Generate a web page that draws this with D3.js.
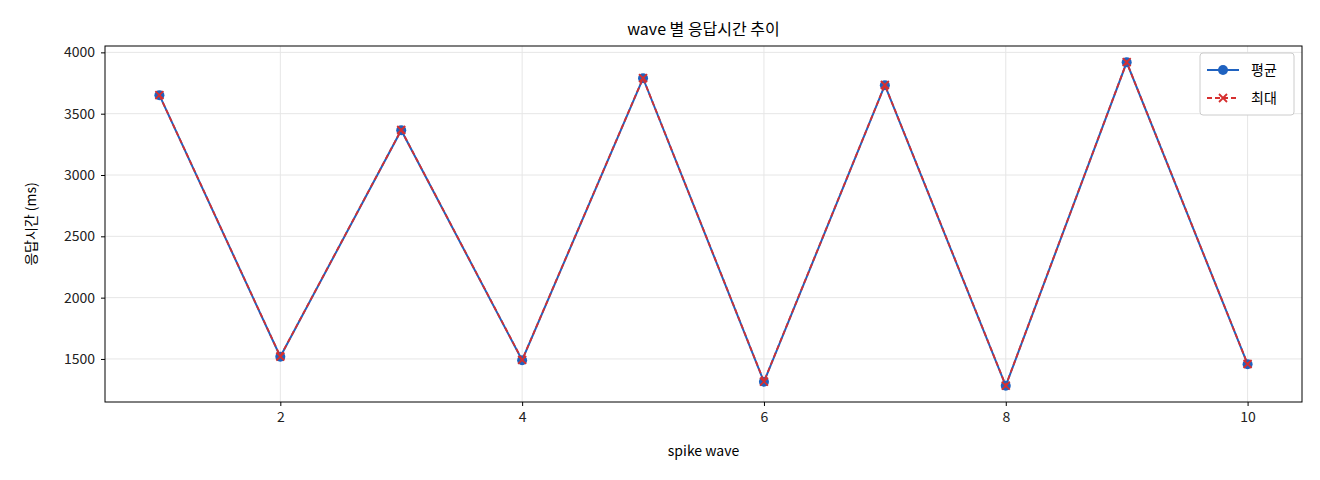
<!DOCTYPE html>
<html><head><meta charset="utf-8">
<script src="https://cdn.jsdelivr.net/npm/d3@7"></script>
<style>body{margin:0;background:#fff}text{font-family:"Noto Sans CJK KR","Noto Sans",sans-serif}</style>
</head><body><svg id="c" width="1320" height="480"></svg>
<script>
const waves=[1,2,3,4,5,6,7,8,9,10];
const avgMs=[3651,1518,3365,1490,3789,1314,3732,1281,3919,1457];
const maxMs=[3652,1520,3367,1492,3790,1316,3734,1283,3920,1459];
const yTicks=[1500,2000,2500,3000,3500,4000];
const xTicks=[2,4,6,8,10];
const svg=d3.select("#c");
const L=105,R=1302,T=46,B=402;
const lo=Math.min(...avgMs,...maxMs),hi=Math.max(...avgMs,...maxMs),pad=(hi-lo)*0.05;
const x=d3.scaleLinear().domain([0.55,10.45]).range([L,R]);
const y=d3.scaleLinear().domain([lo-pad,hi+pad]).range([B,T]);
const g=svg.append("g");
xTicks.forEach(t=>g.append("line").attr("x1",x(t)).attr("x2",x(t)).attr("y1",T).attr("y2",B).attr("stroke","#e6e6e6"));
yTicks.forEach(t=>g.append("line").attr("x1",L).attr("x2",R).attr("y1",y(t)).attr("y2",y(t)).attr("stroke","#e6e6e6"));
svg.append("g").attr("transform",`translate(0,${B})`).call(d3.axisBottom(x).tickValues(xTicks).tickFormat(d3.format("d")).tickSize(4).tickPadding(6))
 .call(a=>{a.select(".domain").remove();a.selectAll("text").attr("font-size",14).attr("fill","#222");});
svg.append("g").attr("transform",`translate(${L},0)`).call(d3.axisLeft(y).tickValues(yTicks).tickFormat(d3.format("d")).tickSize(4).tickPadding(6))
 .call(a=>{a.select(".domain").remove();a.selectAll("text").attr("font-size",14).attr("fill","#222");});
svg.append("rect").attr("x",L).attr("y",T).attr("width",R-L).attr("height",B-T).attr("fill","none").attr("stroke","#000");
const line=d3.line().x((d,i)=>x(waves[i])).y(d=>y(d));
svg.append("path").attr("d",line(avgMs)).attr("fill","none").attr("stroke","#1f62c0").attr("stroke-width",2);
avgMs.forEach((v,i)=>svg.append("circle").attr("cx",x(waves[i])).attr("cy",y(v)).attr("r",5).attr("fill","#1f62c0"));
svg.append("path").attr("d",line(maxMs)).attr("fill","none").attr("stroke","#d62f2f").attr("stroke-width",1.8).attr("stroke-dasharray","5,3");
const cross=(cx,cy,s)=>`M${cx-s},${cy-s}L${cx+s},${cy+s}M${cx-s},${cy+s}L${cx+s},${cy-s}`;
maxMs.forEach((v,i)=>svg.append("path").attr("d",cross(x(waves[i]),y(v),4)).attr("stroke","#d62f2f").attr("stroke-width",1.8));
svg.append("text").attr("x",(L+R)/2).attr("y",35).attr("text-anchor","middle").attr("font-size",16).text("wave 별 응답시간 추이");
svg.append("text").attr("x",(L+R)/2).attr("y",456).attr("text-anchor","middle").attr("font-size",14).text("spike wave");
svg.append("text").attr("transform",`translate(36,${(T+B)/2}) rotate(-90)`).attr("text-anchor","middle").attr("font-size",14).text("응답시간 (ms)");
const lg=svg.append("g");
lg.append("rect").attr("x",1200).attr("y",53).attr("width",94).attr("height",62).attr("rx",3).attr("fill","#fff").attr("stroke","#ccc");
lg.append("line").attr("x1",1207).attr("x2",1239).attr("y1",70).attr("y2",70).attr("stroke","#1f62c0").attr("stroke-width",2);
lg.append("circle").attr("cx",1223).attr("cy",70).attr("r",5).attr("fill","#1f62c0");
lg.append("text").attr("x",1251).attr("y",75).attr("font-size",14).text("평균");
lg.append("line").attr("x1",1207).attr("x2",1239).attr("y1",98).attr("y2",98).attr("stroke","#d62f2f").attr("stroke-width",1.8).attr("stroke-dasharray","5,3");
lg.append("path").attr("d",cross(1223,98,4)).attr("stroke","#d62f2f").attr("stroke-width",1.8);
lg.append("text").attr("x",1251).attr("y",103).attr("font-size",14).text("최대");
</script></body></html>
